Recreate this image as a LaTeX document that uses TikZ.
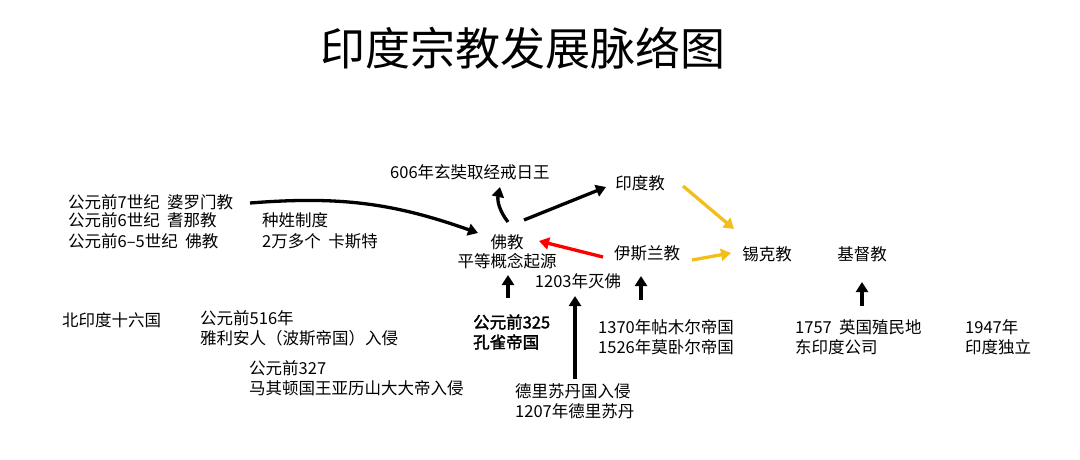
\documentclass[tikz,border=0pt]{standalone}
\usepackage{fontspec}
\setmainfont{Noto Sans CJK SC}
\newfontfamily\cjkb[FakeBold=2]{Noto Sans CJK SC}
\usetikzlibrary{arrows.meta}
\definecolor{ylw}{HTML}{F2BE1A}
\begin{document}
\begin{tikzpicture}[x=1pt,y=-1pt,
  t/.style={inner sep=0pt,anchor=west,font=\fontsize{16.5}{19}\selectfont},
  c/.style={inner sep=1pt,font=\fontsize{16.5}{19}\selectfont},
  ar/.style={line width=3.3pt,-{Triangle[length=10pt,width=12pt]}},
  yar/.style={ar,draw=ylw}]
\useasboundingbox (0,0) rectangle (1080,459);
\node[inner sep=0pt,font=\fontsize{45}{48}\selectfont] (title) at (523,48) {印度宗教发展脉络图};
\node[t] (a1) at (68,202) {公元前7世纪\ \ 婆罗门教};
\node[t] (a2) at (68,220) {公元前6世纪\ \ 耆那教};
\node[t] (a3) at (68,241) {公元前6–5世纪\ \ 佛教};
\node[t] (b1) at (262,220) {种姓制度};
\node[t] (b2) at (262,241) {2万多个\ \ 卡斯特};
\node[c] (fo) at (507,242) {佛教};
\node[c] (fo2) at (507,261) {平等概念起源};
\node[t] (xz) at (390,172) {606年玄奘取经戒日王};
\node[c] (hin) at (640,183) {印度教};
\node[c] (isl) at (647,253) {伊斯兰教};
\node[c] (sik) at (767,254) {锡克教};
\node[c] (chr) at (862,254) {基督教};
\node[c] (mie) at (578,281) {1203年灭佛};
\node[t] (n16) at (62,320) {北印度十六国};
\node[t] (p1) at (200,318) {公元前516年};
\node[t] (p2) at (200,338) {雅利安人（波斯帝国）入侵};
\node[t,font=\fontsize{16.5}{19}\cjkb] (k1) at (473,322) {公元前325};
\node[t,font=\fontsize{16.5}{19}\cjkb] (k2) at (473,342) {孔雀帝国};
\node[t] (m1) at (598,327) {1370年帖木尔帝国};
\node[t] (m2) at (598,347) {1526年莫卧尔帝国};
\node[t] (e1) at (795,327) {1757\ \ 英国殖民地};
\node[t] (e2) at (795,347) {东印度公司};
\node[t] (i1) at (965,327) {1947年};
\node[t] (i2) at (965,347) {印度独立};
\node[t] (g1) at (249,368) {公元前327};
\node[t] (g2) at (249,388) {马其顿国王亚历山大大帝入侵};
\node[t] (d1) at (515,391) {德里苏丹国入侵};
\node[t] (d2) at (515,411) {1207年德里苏丹};
\coordinate (s1) at (250,203);
\coordinate (s2) at (508,298);
\coordinate (s3) at (575,379);
\coordinate (s4) at (641,300);
\coordinate (s5) at (862,306);
\draw[ar] (s1) to[bend left=12] (478,233);
\draw[ar] (508,222) to[bend left=25] (500,187);
\draw[ar] (524,220) -- (606,187);
\draw[yar] (683,186) -- (734,229);
\draw[ar,draw=red] (603,257) -- (539,241);
\draw[yar] (692,260) -- (731,253);
\draw[ar] (s2) -- (508,275);
\draw[ar] (s3) -- (575,296);
\draw[ar] (s4) -- (641,276);
\draw[ar] (s5) -- (862,282);
\end{tikzpicture}
\end{document}
